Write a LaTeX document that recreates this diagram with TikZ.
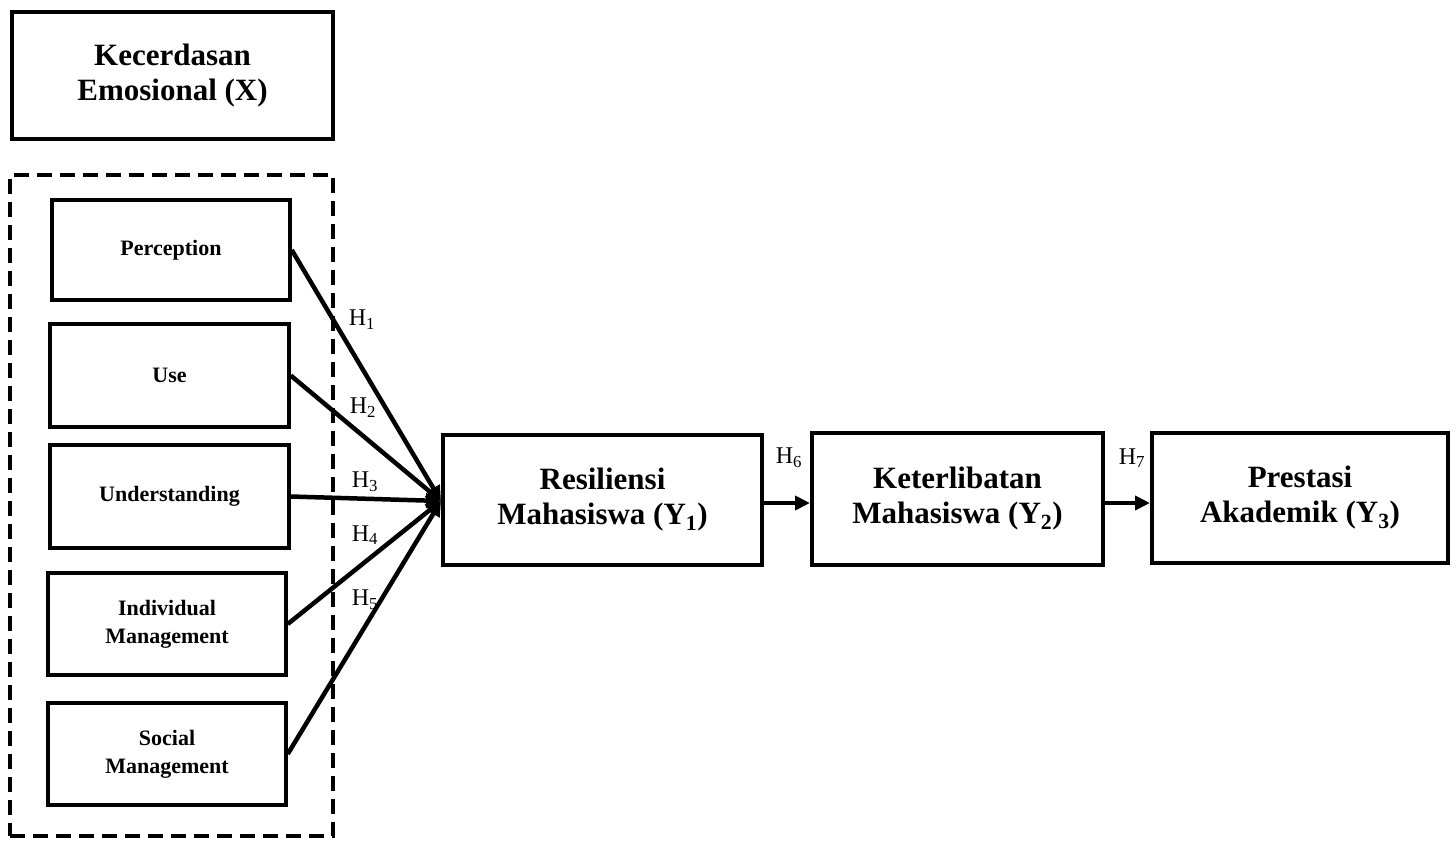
\documentclass[tikz,border=0pt]{standalone}
\usepackage{fontspec}
\setmainfont{Liberation Serif}
\usetikzlibrary{arrows.meta}
\begin{document}
\begin{tikzpicture}[x=1pt,y=-1pt,
  bigbox/.style={draw,line width=4pt,rectangle,align=center,font=\fontsize{31}{35}\selectfont\bfseries,inner sep=0pt},
  smallbox/.style={draw,line width=3.5pt,rectangle,align=center,font=\fontsize{22}{28}\selectfont\bfseries,inner sep=0pt,minimum width=238pt},
  conn/.style={line width=4.5pt,-{Triangle[length=15pt,width=14pt]}},
  hlab/.style={font=\fontsize{24}{26}\selectfont,inner sep=0pt}
]
\useasboundingbox (0,0) rectangle (1456,844);
\node[bigbox,minimum width=321pt,minimum height=127pt] (x) at (172.5,75.5) {Kecerdasan\\Emosional (X)};
\node[draw,line width=4pt,dash pattern=on 15pt off 8pt,minimum width=323pt,minimum height=661pt,inner sep=0pt] (grp) at (171.5,505.5) {};
\node[smallbox,minimum height=100pt] (per) at (171,250) {Perception};
\node[smallbox,minimum height=103pt,minimum width=239pt] (use) at (169.5,375.5) {Use};
\node[smallbox,minimum height=103pt,minimum width=239pt] (und) at (169.5,496.5) {Understanding};
\node[smallbox,minimum height=102pt] (ind) at (167,624) {Individual\\Management};
\node[smallbox,minimum height=102pt] (soc) at (167,754) {Social\\Management};
\node[bigbox,minimum width=319pt,minimum height=130pt] (res) at (602.5,500) {Resiliensi\\Mahasiswa (Y\textsubscript{1})};
\node[bigbox,minimum width=291pt,minimum height=132pt] (ket) at (957.5,499) {Keterlibatan\\Mahasiswa (Y\textsubscript{2})};
\node[bigbox,minimum width=296pt,minimum height=130pt] (pre) at (1300,498) {Prestasi\\Akademik (Y\textsubscript{3})};
\coordinate (tgt) at (441,501);
\draw[conn] (per.east) -- (tgt);
\draw[conn] (use.east) -- (tgt);
\draw[conn] (und.east) -- (tgt);
\draw[conn] (ind.east) -- (tgt);
\draw[conn] (soc.east) -- (tgt);
\draw[conn] (res.east |- 0,503) -- (ket.west |- 0,503);
\draw[conn] (ket.east |- 0,503) -- (pre.west |- 0,503);
\node[hlab] (h1) at (362,320) {H\textsubscript{1}};
\node[hlab] (h2) at (363,408) {H\textsubscript{2}};
\node[hlab] (h3) at (365,482) {H\textsubscript{3}};
\node[hlab] (h4) at (365,535) {H\textsubscript{4}};
\node[hlab] (h5) at (365,600) {H\textsubscript{5}};
\node[hlab] (h6) at (789,458) {H\textsubscript{6}};
\node[hlab] (h7) at (1132,458) {H\textsubscript{7}};
\end{tikzpicture}
\end{document}
